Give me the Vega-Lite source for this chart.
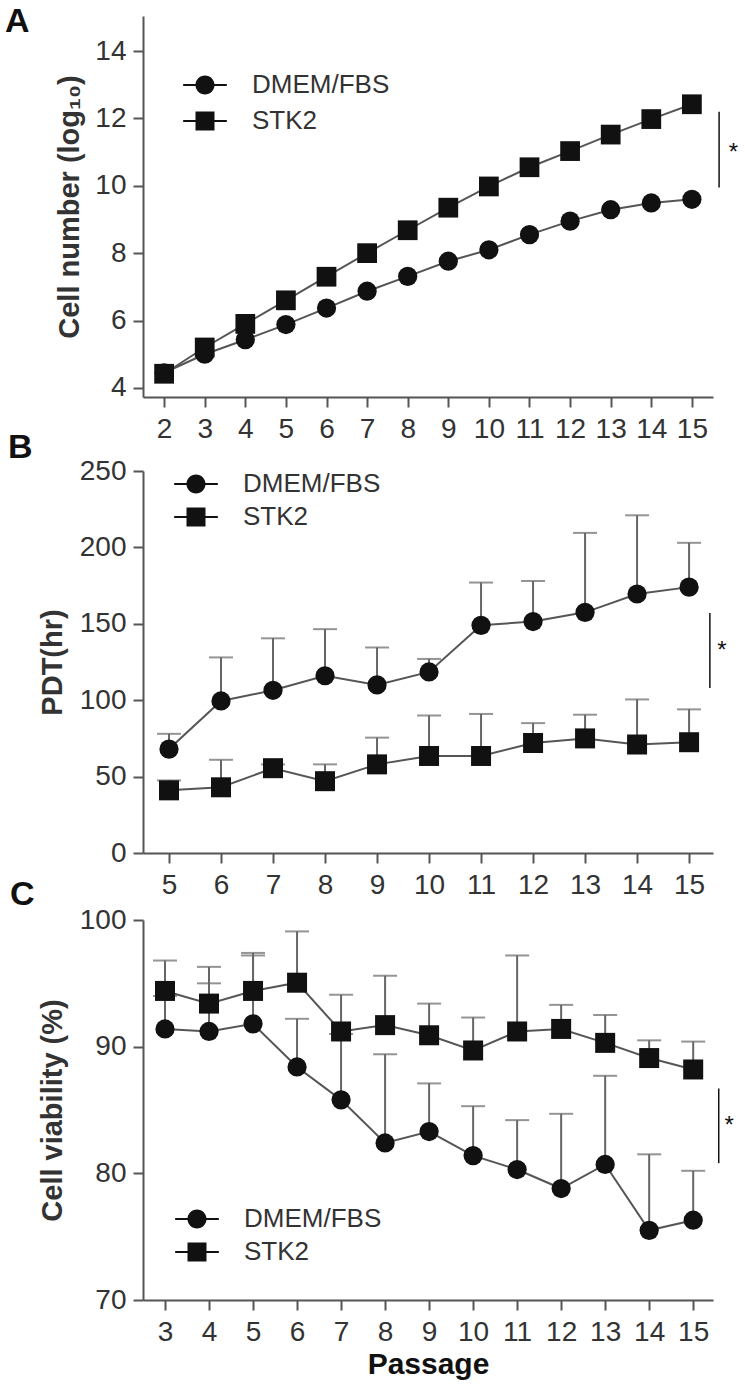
{
  "$schema": "https://vega.github.io/schema/vega-lite/v6.json",
  "padding": {"left": 5, "top": 5, "right": 0, "bottom": 5},
  "background": "white",
  "config": {
    "font": "Liberation Sans",
    "view": {"stroke": null},
    "axis": {
      "grid": false,
      "domainColor": "#555",
      "domainWidth": 2,
      "tickColor": "#555",
      "tickWidth": 2,
      "tickSize": 10,
      "labelFont": "Liberation Sans",
      "labelFontSize": 28,
      "labelColor": "#333",
      "titleFont": "Liberation Sans",
      "titleFontSize": 29,
      "titleFontWeight": "bold",
      "titleColor": "#333"
    },
    "axisX": {"labelPadding": 8},
    "axisY": {"labelPadding": 7},
    "legend": {
      "labelFont": "Liberation Sans",
      "labelFontSize": 26,
      "labelColor": "#333",
      "symbolSize": 361,
      "symbolFillColor": "#111",
      "symbolStrokeWidth": 0,
      "labelOffset": 34,
      "rowPadding": 8,
      "padding": 0
    }
  },
  "datasets": {
    "A": [
      {"passage": 2, "group": "DMEM/FBS", "value": 4.45},
      {"passage": 3, "group": "DMEM/FBS", "value": 5.0},
      {"passage": 4, "group": "DMEM/FBS", "value": 5.43},
      {"passage": 5, "group": "DMEM/FBS", "value": 5.88},
      {"passage": 6, "group": "DMEM/FBS", "value": 6.37},
      {"passage": 7, "group": "DMEM/FBS", "value": 6.87},
      {"passage": 8, "group": "DMEM/FBS", "value": 7.31},
      {"passage": 9, "group": "DMEM/FBS", "value": 7.76},
      {"passage": 10, "group": "DMEM/FBS", "value": 8.1},
      {"passage": 11, "group": "DMEM/FBS", "value": 8.55},
      {"passage": 12, "group": "DMEM/FBS", "value": 8.95},
      {"passage": 13, "group": "DMEM/FBS", "value": 9.29},
      {"passage": 14, "group": "DMEM/FBS", "value": 9.49},
      {"passage": 15, "group": "DMEM/FBS", "value": 9.6},
      {"passage": 2, "group": "STK2", "value": 4.42},
      {"passage": 3, "group": "STK2", "value": 5.2},
      {"passage": 4, "group": "STK2", "value": 5.9},
      {"passage": 5, "group": "STK2", "value": 6.6},
      {"passage": 6, "group": "STK2", "value": 7.3},
      {"passage": 7, "group": "STK2", "value": 8.0},
      {"passage": 8, "group": "STK2", "value": 8.68},
      {"passage": 9, "group": "STK2", "value": 9.35},
      {"passage": 10, "group": "STK2", "value": 9.98},
      {"passage": 11, "group": "STK2", "value": 10.55},
      {"passage": 12, "group": "STK2", "value": 11.03},
      {"passage": 13, "group": "STK2", "value": 11.52},
      {"passage": 14, "group": "STK2", "value": 11.98},
      {"passage": 15, "group": "STK2", "value": 12.42}
    ],
    "B": [
      {"passage": 5, "group": "DMEM/FBS", "value": 68, "upper": 78},
      {"passage": 6, "group": "DMEM/FBS", "value": 99.5, "upper": 128},
      {"passage": 7, "group": "DMEM/FBS", "value": 106.5, "upper": 140.5},
      {"passage": 8, "group": "DMEM/FBS", "value": 116, "upper": 146.5},
      {"passage": 9, "group": "DMEM/FBS", "value": 110, "upper": 134.5},
      {"passage": 10, "group": "DMEM/FBS", "value": 118.5, "upper": 127},
      {"passage": 11, "group": "DMEM/FBS", "value": 149, "upper": 177},
      {"passage": 12, "group": "DMEM/FBS", "value": 151.5, "upper": 178},
      {"passage": 13, "group": "DMEM/FBS", "value": 157.5, "upper": 209.5},
      {"passage": 14, "group": "DMEM/FBS", "value": 169.5, "upper": 221},
      {"passage": 15, "group": "DMEM/FBS", "value": 174, "upper": 203},
      {"passage": 5, "group": "STK2", "value": 41, "upper": 47.5},
      {"passage": 6, "group": "STK2", "value": 43, "upper": 61},
      {"passage": 7, "group": "STK2", "value": 55.5, "upper": 58},
      {"passage": 8, "group": "STK2", "value": 47, "upper": 58},
      {"passage": 9, "group": "STK2", "value": 58, "upper": 75.5},
      {"passage": 10, "group": "STK2", "value": 63.5, "upper": 90},
      {"passage": 11, "group": "STK2", "value": 63.5, "upper": 91},
      {"passage": 12, "group": "STK2", "value": 72, "upper": 85},
      {"passage": 13, "group": "STK2", "value": 75, "upper": 90.5},
      {"passage": 14, "group": "STK2", "value": 71, "upper": 100.5},
      {"passage": 15, "group": "STK2", "value": 72.5, "upper": 94}
    ],
    "C": [
      {"passage": 3, "group": "DMEM/FBS", "value": 91.4, "upper": 94.0},
      {"passage": 4, "group": "DMEM/FBS", "value": 91.2, "upper": 95.0},
      {"passage": 5, "group": "DMEM/FBS", "value": 91.8, "upper": 97.2},
      {"passage": 6, "group": "DMEM/FBS", "value": 88.4, "upper": 92.2},
      {"passage": 7, "group": "DMEM/FBS", "value": 85.8, "upper": 91.0},
      {"passage": 8, "group": "DMEM/FBS", "value": 82.4, "upper": 89.4},
      {"passage": 9, "group": "DMEM/FBS", "value": 83.3, "upper": 87.1},
      {"passage": 10, "group": "DMEM/FBS", "value": 81.4, "upper": 85.3},
      {"passage": 11, "group": "DMEM/FBS", "value": 80.3, "upper": 84.2},
      {"passage": 12, "group": "DMEM/FBS", "value": 78.8, "upper": 84.7},
      {"passage": 13, "group": "DMEM/FBS", "value": 80.7, "upper": 87.7},
      {"passage": 14, "group": "DMEM/FBS", "value": 75.5, "upper": 81.5},
      {"passage": 15, "group": "DMEM/FBS", "value": 76.3, "upper": 80.2},
      {"passage": 3, "group": "STK2", "value": 94.4, "upper": 96.8},
      {"passage": 4, "group": "STK2", "value": 93.4, "upper": 96.3},
      {"passage": 5, "group": "STK2", "value": 94.4, "upper": 97.4},
      {"passage": 6, "group": "STK2", "value": 95.05, "upper": 99.1},
      {"passage": 7, "group": "STK2", "value": 91.2, "upper": 94.1},
      {"passage": 8, "group": "STK2", "value": 91.7, "upper": 95.6},
      {"passage": 9, "group": "STK2", "value": 90.9, "upper": 93.4},
      {"passage": 10, "group": "STK2", "value": 89.7, "upper": 92.3},
      {"passage": 11, "group": "STK2", "value": 91.2, "upper": 97.2},
      {"passage": 12, "group": "STK2", "value": 91.4, "upper": 93.3},
      {"passage": 13, "group": "STK2", "value": 90.3, "upper": 92.5},
      {"passage": 14, "group": "STK2", "value": 89.1, "upper": 90.5},
      {"passage": 15, "group": "STK2", "value": 88.2, "upper": 90.4}
    ],
    "sig": [
      {"panel": "A", "kind": "rule", "passage": 15.67, "value": 9.95, "upper": 12.2},
      {"panel": "A", "kind": "star", "passage": 16.02, "value": 10.97, "label": "*"},
      {"panel": "B", "kind": "rule", "passage": 15.4, "value": 108, "upper": 157},
      {"panel": "B", "kind": "star", "passage": 15.63, "value": 132, "label": "*"},
      {"panel": "C", "kind": "rule", "passage": 15.58, "value": 80.8, "upper": 86.7},
      {"panel": "C", "kind": "star", "passage": 15.82, "value": 83.7, "label": "*"}
    ]
  },
  "bounds": "flush",
  "spacing": 74,
  "resolve": {"scale": {"shape": "independent"}, "legend": {"shape": "independent"}},
  "vconcat": [
    {
      "width": 570,
      "height": 381,
      "title": {"text": "A", "anchor": "start", "frame": "group", "orient": "top", "offset": 0, "baseline": "top", "dx": -138, "dy": 23, "fontSize": 34, "fontWeight": "bold", "color": "#111", "font": "Liberation Sans"},
      "encoding": {
        "x": {"field": "passage", "type": "quantitative", "scale": {"domain": [1.48, 15.52], "nice": false, "zero": false}, "axis": {"title": null, "values": [2,3,4,5,6,7,8,9,10,11,12,13,14,15], "labelFlush": false, "labelOverlap": false}},
        "y": {"field": "value", "type": "quantitative", "scale": {"domain": [3.73, 15.04], "nice": false, "zero": false}, "axis": {"title": "Cell number (log₁₀)", "values": [4,6,8,10,12,14], "titlePadding": 10, "labelFlush": false}}
      },
      "layer": [
        {"data": {"name": "A"}, "mark": {"type": "line", "color": "#555", "strokeWidth": 2}, "encoding": {"detail": {"field": "group"}}},
        {"data": {"name": "A"}, "transform": [{"filter": "datum.group === 'DMEM/FBS'"}], "mark": {"type": "point", "shape": "circle", "filled": true, "color": "#111", "opacity": 1, "size": 370}},
        {"data": {"name": "A"}, "transform": [{"filter": "datum.group === 'STK2'"}], "mark": {"type": "point", "shape": "square", "filled": true, "color": "#111", "opacity": 1, "size": 390}},
        {"data": {"name": "A"}, "transform": [{"filter": "datum.passage < 0"}], "mark": {"type": "point", "filled": true, "color": "#111", "opacity": 1},
         "encoding": {"shape": {"field": "group", "type": "nominal", "scale": {"domain": ["DMEM/FBS", "STK2"], "range": ["M1,0A1,1,0,1,1,-1,0A1,1,0,1,1,1,0Z M-2.3,-0.1H-0.9V0.1H-2.3Z M0.9,-0.1H2.3V0.1H0.9Z", "M-1,-1H1V1H-1Z M-2.3,-0.1H-1V0.1H-2.3Z M1,-0.1H2.3V0.1H1Z"]}, "legend": {"title": null, "orient": "none", "legendX": 49, "legendY": 56, "rowPadding": 10}}}},
        {"data": {"name": "sig"}, "transform": [{"filter": "datum.panel === 'A' && datum.kind === 'rule'"}], "mark": {"type": "rule", "color": "#111", "strokeWidth": 1.5}, "encoding": {"y2": {"field": "upper"}}},
        {"data": {"name": "sig"}, "transform": [{"filter": "datum.panel === 'A' && datum.kind === 'star'"}], "mark": {"type": "text", "color": "#111", "fontSize": 24, "baseline": "middle", "align": "center", "font": "Liberation Sans"}, "encoding": {"text": {"field": "label"}}}
      ]
    },
    {
      "bounds": "flush",
      "spacing": 67,
      "resolve": {"scale": {"shape": "independent"}, "legend": {"shape": "independent"}},
      "vconcat": [
        {
          "width": 570,
          "height": 382,
          "title": {"text": "B", "anchor": "start", "frame": "group", "orient": "top", "offset": 0, "baseline": "top", "dx": -135, "dy": 8, "fontSize": 34, "fontWeight": "bold", "color": "#111", "font": "Liberation Sans"},
          "encoding": {
            "x": {"field": "passage", "type": "quantitative", "scale": {"domain": [4.5, 15.46], "nice": false, "zero": false}, "axis": {"title": null, "values": [5,6,7,8,9,10,11,12,13,14,15], "labelFlush": false, "labelOverlap": false}},
            "y": {"field": "value", "type": "quantitative", "scale": {"domain": [0, 250], "nice": false}, "axis": {"title": "PDT(hr)", "values": [0,50,100,150,200,250], "titlePadding": 12, "labelFlush": false}}
          },
          "layer": [
            {"data": {"name": "B"}, "mark": {"type": "rule", "color": "#666", "strokeWidth": 2}, "encoding": {"y2": {"field": "upper"}}},
            {"data": {"name": "B"}, "mark": {"type": "tick", "orient": "horizontal", "color": "#666", "size": 24, "thickness": 2}, "encoding": {"y": {"field": "upper", "type": "quantitative", "title": "PDT(hr)"}}},
            {"data": {"name": "B"}, "mark": {"type": "line", "color": "#555", "strokeWidth": 2}, "encoding": {"detail": {"field": "group"}}},
            {"data": {"name": "B"}, "transform": [{"filter": "datum.group === 'DMEM/FBS'"}], "mark": {"type": "point", "shape": "circle", "filled": true, "color": "#111", "opacity": 1, "size": 370}},
            {"data": {"name": "B"}, "transform": [{"filter": "datum.group === 'STK2'"}], "mark": {"type": "point", "shape": "square", "filled": true, "color": "#111", "opacity": 1, "size": 400}},
            {"data": {"name": "B"}, "transform": [{"filter": "datum.passage < 0"}], "mark": {"type": "point", "filled": true, "color": "#111", "opacity": 1},
             "encoding": {"shape": {"field": "group", "type": "nominal", "scale": {"domain": ["DMEM/FBS", "STK2"], "range": ["M1,0A1,1,0,1,1,-1,0A1,1,0,1,1,1,0Z M-2.3,-0.1H-0.9V0.1H-2.3Z M0.9,-0.1H2.3V0.1H0.9Z", "M-1,-1H1V1H-1Z M-2.3,-0.1H-1V0.1H-2.3Z M1,-0.1H2.3V0.1H1Z"]}, "legend": {"title": null, "orient": "none", "legendX": 40, "legendY": 0, "rowPadding": 7}}}},
            {"data": {"name": "sig"}, "transform": [{"filter": "datum.panel === 'B' && datum.kind === 'rule'"}], "mark": {"type": "rule", "color": "#111", "strokeWidth": 1.5}, "encoding": {"y2": {"field": "upper"}}},
            {"data": {"name": "sig"}, "transform": [{"filter": "datum.panel === 'B' && datum.kind === 'star'"}], "mark": {"type": "text", "color": "#111", "fontSize": 24, "baseline": "middle", "align": "center", "font": "Liberation Sans"}, "encoding": {"text": {"field": "label"}}}
          ]
        },
        {
          "width": 570,
          "height": 380,
          "title": {"text": "C", "anchor": "start", "frame": "group", "orient": "top", "offset": 0, "baseline": "top", "dx": -133, "dy": 6, "fontSize": 34, "fontWeight": "bold", "color": "#111", "font": "Liberation Sans"},
          "encoding": {
            "x": {"field": "passage", "type": "quantitative", "scale": {"domain": [2.5, 15.45], "nice": false, "zero": false}, "axis": {"title": "Passage", "titleFontSize": 30, "titleColor": "#111", "titlePadding": 3, "values": [3,4,5,6,7,8,9,10,11,12,13,14,15], "labelFlush": false, "labelOverlap": false}},
            "y": {"field": "value", "type": "quantitative", "scale": {"domain": [70, 100], "nice": false, "zero": false}, "axis": {"title": "Cell viability (%)", "values": [70,80,90,100], "titlePadding": 12, "labelFlush": false}}
          },
          "layer": [
            {"data": {"name": "C"}, "mark": {"type": "rule", "color": "#666", "strokeWidth": 2}, "encoding": {"y2": {"field": "upper"}}},
            {"data": {"name": "C"}, "mark": {"type": "tick", "orient": "horizontal", "color": "#666", "size": 24, "thickness": 2}, "encoding": {"y": {"field": "upper", "type": "quantitative", "title": "Cell viability (%)"}}},
            {"data": {"name": "C"}, "mark": {"type": "line", "color": "#555", "strokeWidth": 2}, "encoding": {"detail": {"field": "group"}}},
            {"data": {"name": "C"}, "transform": [{"filter": "datum.group === 'DMEM/FBS'"}], "mark": {"type": "point", "shape": "circle", "filled": true, "color": "#111", "opacity": 1, "size": 370}},
            {"data": {"name": "C"}, "transform": [{"filter": "datum.group === 'STK2'"}], "mark": {"type": "point", "shape": "square", "filled": true, "color": "#111", "opacity": 1, "size": 400}},
            {"data": {"name": "C"}, "transform": [{"filter": "datum.passage < 0"}], "mark": {"type": "point", "filled": true, "color": "#111", "opacity": 1},
             "encoding": {"shape": {"field": "group", "type": "nominal", "scale": {"domain": ["DMEM/FBS", "STK2"], "range": ["M1,0A1,1,0,1,1,-1,0A1,1,0,1,1,1,0Z M-2.3,-0.1H-0.9V0.1H-2.3Z M0.9,-0.1H2.3V0.1H0.9Z", "M-1,-1H1V1H-1Z M-2.3,-0.1H-1V0.1H-2.3Z M1,-0.1H2.3V0.1H1Z"]}, "legend": {"title": null, "orient": "none", "legendX": 41, "legendY": 286, "rowPadding": 7}}}},
            {"data": {"name": "sig"}, "transform": [{"filter": "datum.panel === 'C' && datum.kind === 'rule'"}], "mark": {"type": "rule", "color": "#111", "strokeWidth": 1.5}, "encoding": {"y2": {"field": "upper"}}},
            {"data": {"name": "sig"}, "transform": [{"filter": "datum.panel === 'C' && datum.kind === 'star'"}], "mark": {"type": "text", "color": "#111", "fontSize": 24, "baseline": "middle", "align": "center", "font": "Liberation Sans"}, "encoding": {"text": {"field": "label"}}}
          ]
        }
      ]
    }
  ]
}
